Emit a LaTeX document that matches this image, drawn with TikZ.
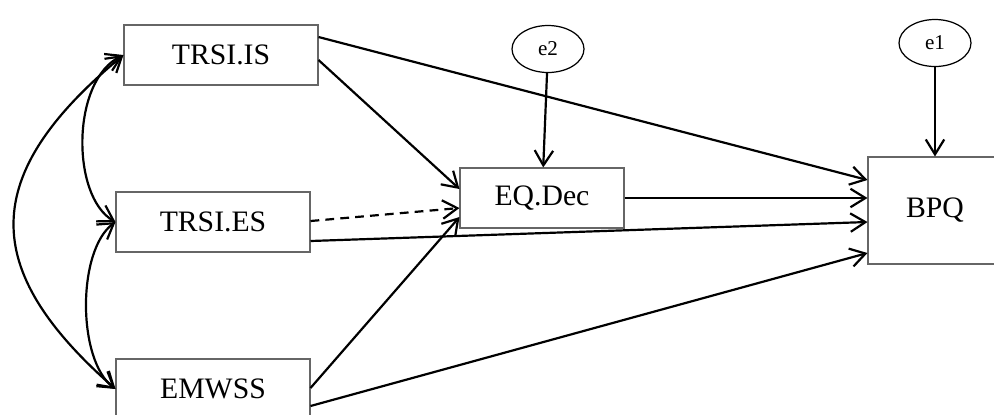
\documentclass[tikz,border=0pt]{standalone}
\usepackage{fontspec}
\setmainfont{Liberation Serif}
\usetikzlibrary{arrows.meta,shapes.geometric}

\tikzset{
  var/.style={draw=black!60, line width=0.6pt, inner sep=0pt,
    minimum width=3.88cm, minimum height=1.2cm,
    font=\fontsize{16.9}{19}\selectfont},
  err/.style={draw, ellipse, line width=0.7pt, inner sep=0pt,
    minimum width=1.44cm, minimum height=0.94cm,
    font=\fontsize{12}{14}\selectfont},
  eff/.style={line width=1.25pt, -{Straight Barb[length=8.5pt,width=10.5pt]}},
  cov/.style={line width=1.25pt,
    {Straight Barb[length=8.5pt,width=10.5pt]}-{Straight Barb[length=8.5pt,width=10.5pt]}}
}

\begin{document}
\begin{tikzpicture}[x=0.02cm, y=-0.02cm]

	\clip (0,0) rectangle (994,414);

	% observed variables
	\node[var] (trsiis) at (221,55) {TRSI.IS};
	\node[var] (trsies) at (213,222) {TRSI.ES};
	\node[var] (emwss) at (213,389) {EMWSS};
	\node[var, minimum width=3.28cm] (eqdec) at (542,198) {EQ.Dec};
	\node[var, minimum width=2.68cm, minimum height=2.14cm] (bpq) at (935,210.5) {BPQ};

	% errors
	\node[err] (etwo) at (548,49) {e2};
	\node[err] (eone) at (935,43) {e1};

	\draw[eff] (etwo) -- (eqdec);
	\draw[eff] (eone) -- (bpq);

	% paths
	\draw[eff] (trsiis.east |- 0,37) -- (bpq.west |- 0,180);
	\draw[eff] (trsiis.east |- 0,60) -- (eqdec.west |- 0,189);
	\draw[eff, dash pattern=on 5pt off 3.5pt] (trsies.east |- 0,221) -- (eqdec.west |- 0,208);
	\draw[eff] (trsies.east |- 0,241) -- (bpq.west |- 0,222);
	\draw[eff] (emwss.east |- 0,388) -- (eqdec.west |- 0,217);
	\draw[eff] (emwss.east |- 0,406) -- (bpq.west |- 0,253);
	\draw[eff] (eqdec.east) -- (bpq.west |- eqdec.east);

	% covariances
	\draw[cov] (trsiis.west) .. controls (-21,175) and (-21,269) .. (emwss.west);
	\draw[cov] (trsiis.west) .. controls (71,80) and (71,196) .. (trsies.west);
	\draw[cov] (trsies.west) .. controls (77,250) and (77,360) .. (emwss.west);

\end{tikzpicture}
\end{document}
